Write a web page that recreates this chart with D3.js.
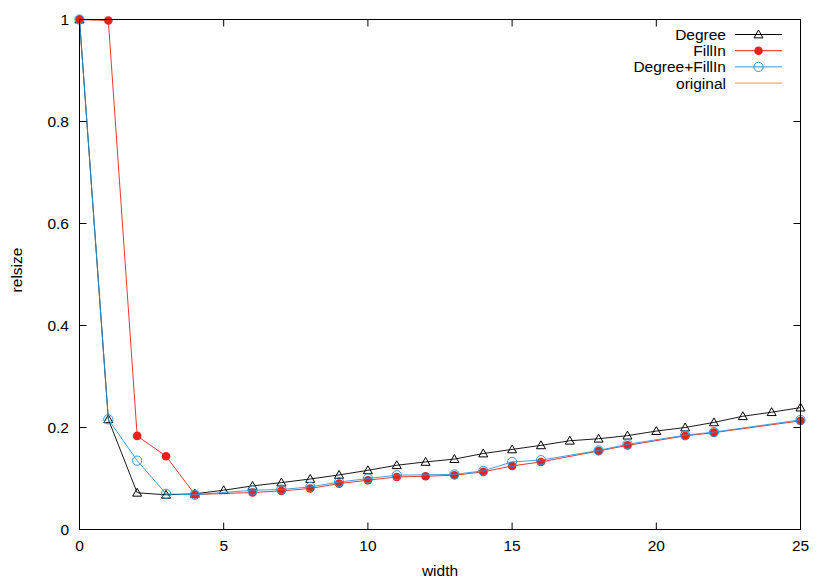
<!DOCTYPE html>
<html>
<head>
<meta charset="utf-8">
<script src="https://cdn.jsdelivr.net/npm/d3@7"></script>
<style>
  html, body { margin: 0; padding: 0; background: #fff; }
  svg { display: block; font-family: "Liberation Sans", Arial, sans-serif; }
</style>
</head>
<body>
<div id="chart"></div>
<script>
// relsize vs width — gnuplot-style line chart redrawn with D3.

// x positions of each series (FillIn variants skip a few widths)
const degreeX = [0, 1, 2, 3, 4, 5, 6, 7, 8, 9, 10, 11, 12, 13, 14, 15, 16, 17, 18, 19, 20, 21, 22, 23, 24, 25];
const degreeY = [1.0, 0.216, 0.072, 0.068, 0.070, 0.077, 0.0855, 0.092, 0.099, 0.107, 0.116, 0.126, 0.1325, 0.138, 0.149, 0.157, 0.165, 0.174, 0.178, 0.184, 0.193, 0.200, 0.210, 0.222, 0.230, 0.239];

const fillInX = [0, 1, 2, 3, 4, 6, 7, 8, 9, 10, 11, 12, 13, 14, 15, 16, 18, 19, 21, 22, 25];
const fillInY = [1.0, 0.998, 0.1835, 0.1437, 0.0686, 0.0725, 0.0757, 0.0804, 0.090, 0.0967, 0.103, 0.1045, 0.1065, 0.113, 0.1247, 0.1325, 0.154, 0.165, 0.1835, 0.190, 0.213];

const bothX = [0, 1, 2, 3, 4, 6, 7, 8, 9, 10, 11, 13, 14, 15, 16, 18, 19, 21, 22, 25];
const bothY = [1.0, 0.216, 0.135, 0.070, 0.068, 0.077, 0.0785, 0.0835, 0.093, 0.100, 0.1065, 0.108, 0.115, 0.1325, 0.136, 0.155, 0.167, 0.185, 0.191, 0.215];

const originalX = [0, 25];
const originalY = [1.0, 1.0];

const xTicks = [0, 5, 10, 15, 20, 25];
const yTicks = [0, 0.2, 0.4, 0.6, 0.8, 1];

const series = [
  { name: 'Degree', xs: degreeX, ys: degreeY, color: '#000000', marker: 'triangle' },
  { name: 'FillIn', xs: fillInX, ys: fillInY, color: '#e8231b', marker: 'dot' },
  { name: 'Degree+FillIn', xs: bothX, ys: bothY, color: '#2f95d0', marker: 'ring' },
  { name: 'original', xs: originalX, ys: originalY, color: '#e6a31e', marker: null },
];

const W = 830, H = 581;
const plot = { left: 79.5, right: 800.5, top: 19.5, bottom: 529.5 };
const TICK = 7;
const FONT = 15.5;

const svg = d3.select('#chart').append('svg')
  .attr('width', W).attr('height', H)
  .attr('viewBox', `0 0 ${W} ${H}`);

const x = d3.scaleLinear().domain([0, 25]).range([plot.left, plot.right]);
const y = d3.scaleLinear().domain([0, 1]).range([plot.bottom, plot.top]);

const axisG = svg.append('g').attr('class', 'axes');
const dataG = svg.append('g').attr('class', 'data');
const frameG = svg.append('g').attr('class', 'frame');

// Tick labels
axisG.selectAll('text.xt').data(xTicks).enter().append('text')
  .attr('class', 'xt')
  .attr('x', (d) => x(d)).attr('y', 551)
  .attr('text-anchor', 'middle')
  .attr('font-size', FONT)
  .text((d) => d);

axisG.selectAll('text.yt').data(yTicks).enter().append('text')
  .attr('class', 'yt')
  .attr('x', 69).attr('y', (d) => y(d) + 5.5)
  .attr('text-anchor', 'end')
  .attr('font-size', FONT)
  .text((d) => d3.format('~g')(d));

axisG.append('text')
  .attr('x', x(12.5)).attr('y', 576)
  .attr('text-anchor', 'middle')
  .attr('font-size', FONT)
  .text('width');

axisG.append('text')
  .attr('transform', 'translate(22,270) rotate(-90)')
  .attr('text-anchor', 'middle')
  .attr('font-size', FONT)
  .text('relsize');

// Lines and markers
const line = d3.line().x((d) => x(d[0])).y((d) => y(d[1]));

const drawMarker = (g, kind, color, cx, cy) => {
  if (kind === 'triangle') {
    const s = 4.5;
    g.append('path')
      .attr('d', `M${cx},${cy - s}L${cx + s},${cy + s * 0.75}L${cx - s},${cy + s * 0.75}Z`)
      .attr('fill', 'none').attr('stroke', color).attr('stroke-width', 1);
  } else if (kind === 'dot') {
    g.append('circle').attr('cx', cx).attr('cy', cy).attr('r', 4.3)
      .attr('fill', color);
  } else if (kind === 'ring') {
    g.append('circle').attr('cx', cx).attr('cy', cy).attr('r', 4.6)
      .attr('fill', 'none').attr('stroke', color).attr('stroke-width', 1);
  }
};

series.forEach((s) => {
  const pts = s.xs.map((v, i) => [v, s.ys[i]]);
  const g = dataG.append('g');
  g.append('path')
    .datum(pts)
    .attr('d', line)
    .attr('fill', 'none')
    .attr('stroke', s.color)
    .attr('stroke-width', 0.9);
  if (s.marker) pts.forEach((p) => drawMarker(g, s.marker, s.color, x(p[0]), y(p[1])));
});

// Border with mirrored inward ticks, drawn over the data
frameG.append('rect')
  .attr('x', plot.left).attr('y', plot.top)
  .attr('width', plot.right - plot.left).attr('height', plot.bottom - plot.top)
  .attr('fill', 'none').attr('stroke', '#000').attr('stroke-width', 1);

xTicks.forEach((t) => {
  frameG.append('line').attr('x1', x(t)).attr('x2', x(t))
    .attr('y1', plot.bottom).attr('y2', plot.bottom - TICK).attr('stroke', '#000');
  frameG.append('line').attr('x1', x(t)).attr('x2', x(t))
    .attr('y1', plot.top).attr('y2', plot.top + TICK).attr('stroke', '#000');
});
yTicks.forEach((t) => {
  frameG.append('line').attr('x1', plot.left).attr('x2', plot.left + TICK)
    .attr('y1', y(t)).attr('y2', y(t)).attr('stroke', '#000');
  frameG.append('line').attr('x1', plot.right).attr('x2', plot.right - TICK)
    .attr('y1', y(t)).attr('y2', y(t)).attr('stroke', '#000');
});

// Legend, top right
const legend = svg.append('g').attr('class', 'legend');
series.forEach((s, i) => {
  const ly = 34.5 + i * 16.2;
  legend.append('text')
    .attr('x', 726).attr('y', ly + 5.5)
    .attr('text-anchor', 'end')
    .attr('font-size', FONT)
    .text(s.name);
  legend.append('line')
    .attr('x1', 735).attr('x2', 782)
    .attr('y1', ly).attr('y2', ly)
    .attr('stroke', s.color).attr('stroke-width', 1);
  if (s.marker) drawMarker(legend, s.marker, s.color, 758.5, ly);
});
</script>
</body>
</html>
